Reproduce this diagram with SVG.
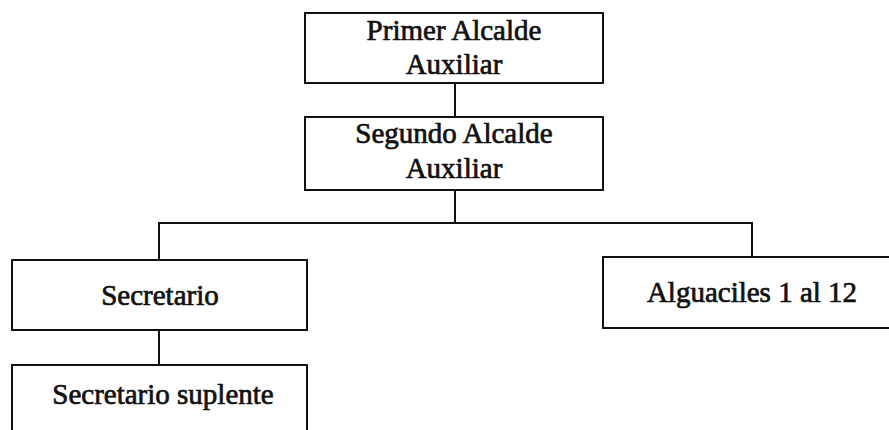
<svg xmlns="http://www.w3.org/2000/svg" width="889" height="430" viewBox="0 0 889 430">
<style>
.box{fill:#fff;stroke:#111;stroke-width:2}
.lbl{font-family:"Liberation Serif","Times New Roman",serif;font-size:29px;fill:#111;text-anchor:middle;stroke:#111;stroke-width:0.7}
.con{fill:none;stroke:#111;stroke-width:2}
</style>
<rect width="889" height="430" fill="#fff"/>
<g id="connectors">
<line class="con" x1="455" y1="83" x2="455" y2="117"/>
<polyline class="con" points="455,190 455,223 159,223 159,260"/>
<polyline class="con" points="455,223 752,223 752,257"/>
<line class="con" x1="159" y1="330" x2="159" y2="365"/>
</g>
<g id="primer">
<rect class="box" x="305" y="13" width="298" height="70"/>
<text class="lbl" x="454" y="40">Primer Alcalde</text>
<text class="lbl" x="454" y="74">Auxiliar</text>
</g>
<g id="segundo">
<rect class="box" x="305" y="117" width="298" height="73"/>
<text class="lbl" x="454" y="143">Segundo Alcalde</text>
<text class="lbl" x="454" y="178">Auxiliar</text>
</g>
<g id="secretario">
<rect class="box" x="12" y="260" width="295" height="70"/>
<text class="lbl" x="160" y="305">Secretario</text>
</g>
<g id="alguaciles">
<rect class="box" x="603" y="257" width="300" height="71"/>
<text class="lbl" x="752" y="302">Alguaciles 1 al 12</text>
</g>
<g id="suplente">
<rect class="box" x="12" y="365" width="295" height="80"/>
<text class="lbl" x="163" y="404">Secretario suplente</text>
</g>
</svg>
